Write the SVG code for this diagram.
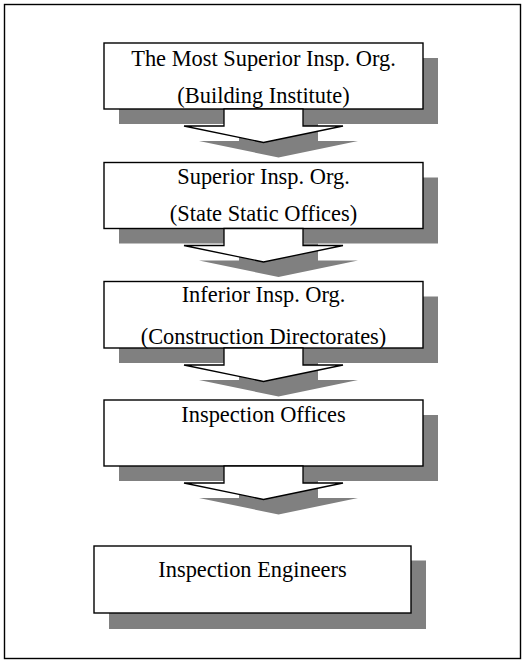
<svg xmlns="http://www.w3.org/2000/svg" width="523" height="660" viewBox="0 0 523 660">
<style>
.frame{fill:#fff;stroke:#000;stroke-width:1.4}
.shadow{fill:#808080;stroke:none}
.box{fill:#fff;stroke:#000;stroke-width:1.4}
.arrow{fill:#fff;stroke:#000;stroke-width:1.3;stroke-linejoin:miter}
.t{font-family:"Liberation Serif","Times New Roman",serif;font-size:22.4px;fill:#000;text-anchor:middle}
</style>
<defs>
<path id="arr" d="M224,0 L303,0 L303,17 L343,17 L263.5,33.5 L184,17 L224,17 Z"/>
</defs>
<rect class="frame" x="4.5" y="4.5" width="516" height="654"/>
<g id="shadows">
<rect class="shadow" x="119" y="58" width="319" height="66"/>
<rect class="shadow" x="119" y="177.5" width="319" height="66"/>
<rect class="shadow" x="119" y="296.5" width="319" height="66.5"/>
<rect class="shadow" x="119" y="415" width="319" height="66"/>
<rect class="shadow" x="109" y="560.5" width="317" height="68.5"/>
<use href="#arr" class="shadow" transform="translate(15,124)"/>
<use href="#arr" class="shadow" transform="translate(15,243.5)"/>
<use href="#arr" class="shadow" transform="translate(15,363)"/>
<use href="#arr" class="shadow" transform="translate(15,481)"/>
</g>
<g id="node1">
<rect class="box" x="104" y="43" width="319" height="66"/>
<text class="t" x="263.5" y="65.5">The Most Superior Insp. Org.</text>
<text class="t" x="263.5" y="103">(Building Institute)</text>
</g>
<g id="node2">
<rect class="box" x="104" y="162.5" width="319" height="66"/>
<text class="t" x="263.5" y="184">Superior Insp. Org.</text>
<text class="t" x="263.5" y="221">(State Static Offices)</text>
</g>
<g id="node3">
<rect class="box" x="104" y="281.5" width="319" height="66.5"/>
<text class="t" x="263.5" y="302">Inferior Insp. Org.</text>
<text class="t" x="263.5" y="344">(Construction Directorates)</text>
</g>
<g id="node4">
<rect class="box" x="104" y="400" width="319" height="66"/>
<text class="t" x="263.5" y="422">Inspection Offices</text>
</g>
<g id="node5">
<rect class="box" x="94" y="546" width="317" height="67"/>
<text class="t" x="252.5" y="577">Inspection Engineers</text>
</g>
<g id="connectors">
<use href="#arr" class="arrow" transform="translate(0,109)"/>
<use href="#arr" class="arrow" transform="translate(0,228.5)"/>
<use href="#arr" class="arrow" transform="translate(0,348)"/>
<use href="#arr" class="arrow" transform="translate(0,466)"/>
</g>
</svg>
